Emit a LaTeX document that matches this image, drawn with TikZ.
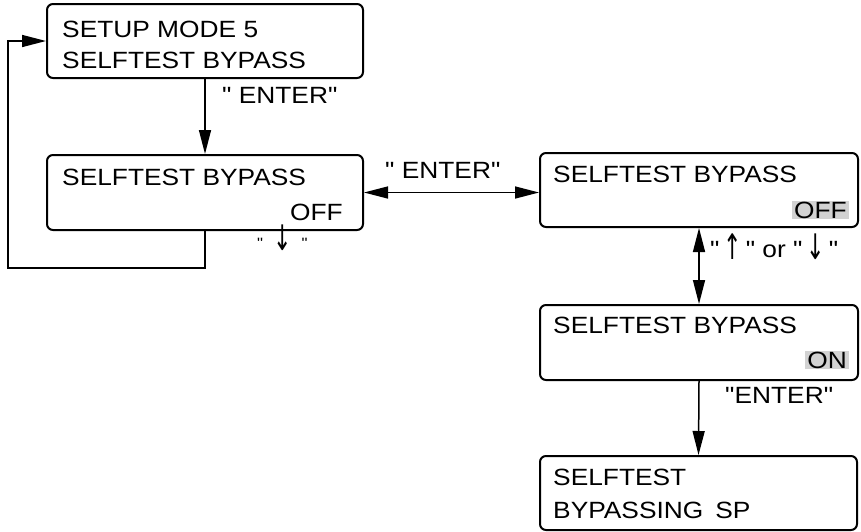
\documentclass[tikz,border=0pt]{standalone}
\usepackage{fontspec}
\usepackage{graphicx}
\setmainfont{Liberation Sans}[FakeStretch=1.12, Ligatures=TeXOff]
\newfontfamily\arrowfont{DejaVu Sans}[Ligatures=TeXOff]
\newcommand\dnarr{\raisebox{-2pt}{\scalebox{1.0}[1.6]{\arrowfont\fontsize{22}{26}\selectfont ↓}}}
\newcommand\uparr{\raisebox{-2pt}{\scalebox{1.0}[1.6]{\arrowfont\fontsize{22}{26}\selectfont ↑}}}
\usetikzlibrary{arrows.meta}
\begin{document}
\begin{tikzpicture}[x=1pt,y=-1pt,
  box/.style={draw, line width=2pt, rounded corners=6pt, minimum width=316pt, minimum height=74pt, inner sep=0pt},
  txt/.style={font=\fontsize{23.5}{28}\selectfont, inner sep=0pt, anchor=base west},
  txtr/.style={txt, anchor=base east},
  lbl/.style={font=\fontsize{23.5}{28}\selectfont, inner sep=0pt, anchor=base west},
  small/.style={font=\fontsize{15}{20}\selectfont, inner sep=0pt, anchor=base west},
  hl/.style={fill=gray!35, inner xsep=2pt, inner ysep=1pt},
  tip/.tip={Triangle[length=24pt,width=12pt]},
  arr/.style={line width=1.5pt, -tip},
  darr/.style={line width=1.5pt, tip-tip}]
\useasboundingbox (0,0) rectangle (861,531);

% boxes
\node[box] (b1) at (205,41) {};
\node[box, minimum height=75pt] (b2) at (205,192.5) {};
\node[box, minimum width=318pt] (b3) at (699,190) {};
\node[box, minimum width=318pt, minimum height=75pt] (b4) at (699,342.5) {};
\node[box, minimum width=317pt] (b5) at (698.5,493) {};

% box texts
\node[txt] (t1a) at (62,37) {SETUP MODE 5};
\node[txt] (t1b) at (62,68) {SELFTEST BYPASS};
\node[txt] (t2a) at (62,185) {SELFTEST BYPASS};
\node[txtr] (t2b) at (343,220) {OFF};
\node[txt] (t3a) at (553,182) {SELFTEST BYPASS};
\node[txtr, hl] (t3b) at (849,218) {OFF};
\node[txt] (t4a) at (553,333) {SELFTEST BYPASS};
\node[txtr, hl] (t4b) at (849,368) {ON};
\node[txt] (t5a) at (553,485) {SELFTEST};
\node[txt] (t5b) at (553,518) {BYPASSING\hspace{12pt}SP};

% connectors
\coordinate (lp) at (8,268);
\draw[arr] (b1.south) -- (b2.north);
\draw[arr] (b2.south) |- (lp) |- (b1.west);
\draw[darr] (b2.east) -- (b2.east -| b3.west);
\draw[darr] (b3.south) -- (b4.north);
\draw[arr] (b4.south) -- (b5.north);

% labels
\node[lbl] (l1) at (222,103) {" ENTER"};
\node[lbl] (l2) at (385,178) {" ENTER"};
\node[small] (l3) at (257,248) {"\hspace{10pt}\dnarr\hspace{10pt}"};
\node[lbl] (l4) at (710,257) {"\,\uparr\," or "\,\dnarr\,"};
\node[lbl] (l5) at (725,403) {"ENTER"};
\end{tikzpicture}
\end{document}
